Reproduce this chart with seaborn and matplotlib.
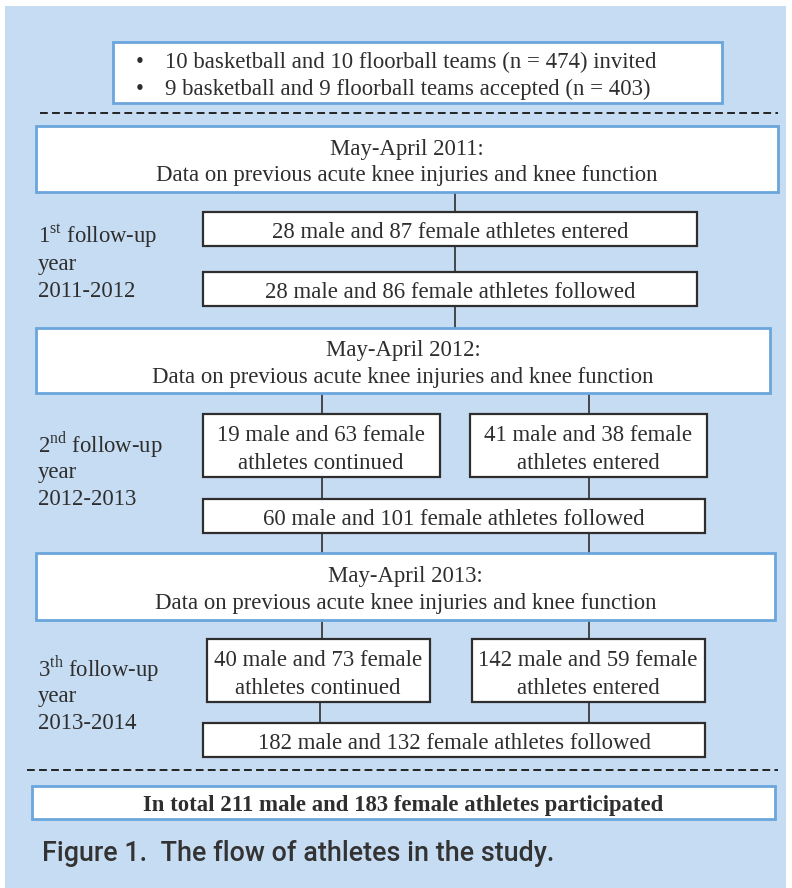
import matplotlib
matplotlib.use("Agg")
import matplotlib.pyplot as plt
from matplotlib.patches import Rectangle
import seaborn as sns

# Study data
teams_invited = (10, 10, 474)
teams_accepted = (9, 9, 403)
season_years = [2011, 2012, 2013]
followup_ordinals = ["1$^{\\mathrm{st}}$", "2$^{\\mathrm{nd}}$", "3$^{\\mathrm{th}}$"]
followup_periods = ["2011-2012", "2012-2013", "2013-2014"]
entered_male = [28, 41, 142]
entered_female = [87, 38, 59]
continued_male = [19, 40]
continued_female = [63, 73]
followed_male = [28, 60, 182]
followed_female = [86, 101, 132]
total_male = 211
total_female = 183
caption = "Figure 1.  The flow of athletes in the study."

sns.set_style("white")
plt.rcParams["font.family"] = ["Liberation Serif", "DejaVu Serif"]
plt.rcParams["mathtext.fontset"] = "custom"
plt.rcParams["mathtext.rm"] = "Liberation Serif"

BG = "#c6dcf2"
BLUE_EDGE = "#6aa6dc"
DARK = "#2e2e2e"
FS = 16.4
DY = 2.5  # small nudge so text sits like in the scan

fig = plt.figure(figsize=(7.92, 8.88), dpi=100)
ax = fig.add_axes([0, 0, 1, 1])
ax.set_xlim(0, 792)
ax.set_ylim(888, 0)
ax.axis("off")

ax.add_patch(Rectangle((5, 6), 781, 890, facecolor=BG, edgecolor="none", zorder=0))


def box(x0, y0, x1, y1, edge, lw):
    ax.add_patch(Rectangle((x0, y0), x1 - x0, y1 - y0, facecolor="white",
                           edgecolor=edge, lw=lw, zorder=2))


def label(x, y, s, **kw):
    kw.setdefault("ha", "center")
    ax.text(x, y + DY, s, va="center", fontsize=FS, color=DARK, zorder=3, **kw)


def vline(x, y0, y1):
    ax.plot([x, x], [y0, y1], color=DARK, lw=1.2, zorder=1)


def dashed(x0, x1, y):
    ax.plot([x0, x1], [y, y], color="#222222", lw=1.4, ls=(0, (4, 2.2)), zorder=1)


# recruitment box
box(113, 42, 722, 103, BLUE_EDGE, 2)
label(140, 60, "\u2022")
label(140, 87, "\u2022")
label(165, 60, f"{teams_invited[0]} basketball and {teams_invited[1]} floorball teams "
      f"(n = {teams_invited[2]}) invited", ha="left")
label(165, 87, f"{teams_accepted[0]} basketball and {teams_accepted[1]} floorball teams "
      f"accepted (n = {teams_accepted[2]})", ha="left")
dashed(40, 778, 113)

# season boxes
season_box = [(36, 126, 778, 192), (36, 328, 770, 393), (36, 553, 775, 620)]
for (x0, y0, x1, y1), yr in zip(season_box, season_years):
    box(x0, y0, x1, y1, BLUE_EDGE, 2)
    cx = (x0 + x1) / 2
    cy = (y0 + y1) / 2
    label(cx, cy - 12.5, f"May-April {yr}:")
    label(cx, cy + 14, "Data on previous acute knee injuries and knee function")

# left labels
label_y = [234, 442, 666]
for y, o, p in zip(label_y, followup_ordinals, followup_periods):
    label(38, y, f"{o} follow-up", ha="left")
    label(38, y + 28, "year", ha="left")
    label(38, y + 55, p, ha="left")

# year 1
vline(455, 192, 212)
box(203, 212, 697, 246, DARK, 1.6)
label(450, 230, f"{entered_male[0]} male and {entered_female[0]} female athletes entered")
vline(455, 246, 272)
box(203, 272, 697, 306, DARK, 1.6)
label(450, 290, f"{followed_male[0]} male and {followed_female[0]} female athletes followed")
vline(455, 306, 328)

# year 2
vline(322, 393, 414)
vline(589, 393, 414)
box(203, 414, 440, 477, DARK, 1.6)
label(321, 433, f"{continued_male[0]} male and {continued_female[0]} female")
label(321, 461, "athletes continued")
box(470, 414, 707, 477, DARK, 1.6)
label(588, 433, f"{entered_male[1]} male and {entered_female[1]} female")
label(588, 461, "athletes entered")
vline(322, 477, 499)
vline(589, 477, 499)
box(203, 499, 705, 533, DARK, 1.6)
label(454, 517, f"{followed_male[1]} male and {followed_female[1]} female athletes followed")
vline(322, 533, 553)
vline(589, 533, 553)

# year 3
vline(322, 620, 639)
vline(589, 620, 639)
box(207, 639, 430, 702, DARK, 1.6)
label(318, 658, f"{continued_male[1]} male and {continued_female[1]} female")
label(318, 686, "athletes continued")
box(472, 639, 705, 702, DARK, 1.6)
label(588, 658, f"{entered_male[2]} male and {entered_female[2]} female")
label(588, 686, "athletes entered")
vline(320, 702, 723)
vline(589, 702, 723)
box(203, 723, 705, 757, DARK, 1.6)
label(454, 741, f"{followed_male[2]} male and {followed_female[2]} female athletes followed")

dashed(27, 778, 770)

# total
box(32, 786, 775, 819, BLUE_EDGE, 2)
label(403, 803, f"In total {total_male} male and {total_female} female athletes participated",
      fontweight="bold")

# caption, sized so its width matches the scan
cap = ax.text(42, 861, caption, va="baseline", ha="left", fontsize=20, color="#333333",
              fontweight="medium",
              family=["Roboto", "Liberation Sans", "DejaVu Sans"], zorder=3)
fig.canvas.draw()
w = cap.get_window_extent().width
cap.set_fontsize(20 * 510 / w)

fig.savefig("out.png", dpi=100, facecolor="white")
